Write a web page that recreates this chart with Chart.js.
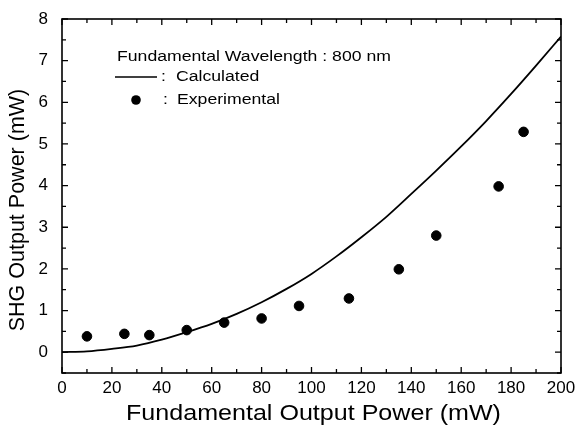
<!DOCTYPE html>
<html>
<head>
<meta charset="utf-8">
<script src="https://cdn.jsdelivr.net/npm/chart.js@4/dist/chart.umd.min.js"></script>
<style>
  html, body { margin: 0; padding: 0; background: #fff; }
  #wrap { width: 575px; height: 433px; }
</style>
</head>
<body>
<div id="wrap"><canvas id="grafico"></canvas></div>
<script>
// === DATOS ===
const calcX = [0, 10, 20, 30, 40, 50, 60, 70, 80, 90, 100, 110, 120, 130, 140, 150, 160, 170, 180, 190, 200];
const calcY = [0, 0.02, 0.08, 0.16, 0.30, 0.48, 0.68, 0.92, 1.20, 1.52, 1.88, 2.30, 2.76, 3.25, 3.80, 4.36, 4.94, 5.55, 6.20, 6.88, 7.58];
const expX = [10, 25, 35, 50, 65, 80, 95, 115, 135, 150, 175, 185];
const expY = [0.38, 0.44, 0.41, 0.53, 0.71, 0.81, 1.11, 1.29, 1.99, 2.80, 3.98, 5.29];
const xTicks = [0, 20, 40, 60, 80, 100, 120, 140, 160, 180, 200];
const yTicks = [0, 1, 2, 3, 4, 5, 6, 7, 8];

const fuente = '"Liberation Sans", Arial, sans-serif';

// texto estirado en horizontal (el escaneo original esta ensanchado)
function texto(ctx, str, x, y, sx) {
    ctx.save();
    ctx.translate(x, y);
    ctx.scale(sx, 1);
    ctx.fillText(str, 0, 0);
    ctx.restore();
}

// ticks hacia adentro, marco y textos
const marco = {
    id: 'marco',
    afterDraw(chart) {
        const ctx = chart.ctx;
        const a = chart.chartArea;
        const x = chart.scales.x, y = chart.scales.y;
        ctx.save();
        ctx.strokeStyle = '#000';
        ctx.lineWidth = 1.6;
        ctx.strokeRect(a.left, a.top, a.right - a.left, a.bottom - a.top);
        ctx.lineWidth = 1.3;
        ctx.beginPath();
        for (let v = 0; v <= 200; v += 10) {
            const px = x.getPixelForValue(v);
            const len = xTicks.includes(v) ? 6 : 4;
            ctx.moveTo(px, a.bottom); ctx.lineTo(px, a.bottom - len);
            ctx.moveTo(px, a.top); ctx.lineTo(px, a.top + len);
        }
        for (let v = -0.5; v <= 8; v += 0.5) {
            const py = y.getPixelForValue(v);
            const len = yTicks.includes(v) ? 6 : 4;
            ctx.moveTo(a.left, py); ctx.lineTo(a.left + len, py);
            ctx.moveTo(a.right, py); ctx.lineTo(a.right - len, py);
        }
        ctx.stroke();

        // titulos de ejes
        ctx.fillStyle = '#000';
        ctx.font = '22px ' + fuente;
        ctx.textAlign = 'center';
        ctx.textBaseline = 'middle';
        texto(ctx, 'Fundamental Output Power (mW)', (a.left + a.right) / 2 + 2, 414, 1.14);
        ctx.save();
        ctx.translate(18, 210);
        ctx.rotate(-Math.PI / 2);
        ctx.font = '21.5px ' + fuente;
        ctx.fillText('SHG Output Power (mW)', 0, 0);
        ctx.restore();

        // leyenda
        ctx.font = '14px ' + fuente;
        ctx.textAlign = 'left';
        texto(ctx, 'Fundamental Wavelength : 800 nm', 117, 57, 1.26);
        ctx.lineWidth = 1.5;
        ctx.beginPath();
        ctx.moveTo(115, 77); ctx.lineTo(157, 77);
        ctx.stroke();
        texto(ctx, ':', 161, 77, 1.26);
        texto(ctx, 'Calculated', 176, 77, 1.26);
        ctx.beginPath();
        ctx.arc(136, 100, 4.8, 0, Math.PI * 2);
        ctx.fill();
        texto(ctx, ':', 163, 100, 1.26);
        texto(ctx, 'Experimental', 177, 100, 1.26);
        ctx.restore();
    }
};

new Chart(document.getElementById('grafico'), {
    type: 'scatter',
    data: {
        datasets: [{
            label: 'Calculated',
            data: calcX.map((v, i) => ({ x: v, y: calcY[i] })),
            showLine: true,
            borderColor: '#000',
            borderWidth: 1.8,
            pointRadius: 0,
            cubicInterpolationMode: 'monotone'
        }, {
            label: 'Experimental',
            data: expX.map((v, i) => ({ x: v, y: expY[i] })),
            backgroundColor: '#000',
            borderColor: '#000',
            pointRadius: 4.8,
            pointHoverRadius: 4.8
        }]
    },
    options: {
        responsive: true,
        maintainAspectRatio: false,
        animation: false,
        layout: { padding: { top: 19, right: 14, left: 0, bottom: 0 } },
        plugins: { legend: { display: false }, tooltip: { enabled: false } },
        scales: {
            x: {
                type: 'linear',
                min: 0, max: 200,
                grid: { display: false, drawTicks: false },
                border: { display: false },
                afterFit: s => { s.height = 60; s.paddingLeft = 0; s.paddingRight = 0; },
                ticks: {
                    stepSize: 10,
                    autoSkip: false,
                    maxRotation: 0,
                    padding: 5,
                    color: '#000',
                    font: { family: fuente, size: 17 },
                    callback: v => xTicks.includes(v) ? String(v) : ''
                }
            },
            y: {
                min: -0.5, max: 8,
                grid: { display: false, drawTicks: false },
                border: { display: false },
                afterFit: s => { s.width = 62; s.paddingTop = 0; s.paddingBottom = 0; },
                ticks: {
                    stepSize: 0.5,
                    autoSkip: false,
                    padding: 14,
                    color: '#000',
                    font: { family: fuente, size: 17 },
                    callback: v => yTicks.includes(v) ? String(v) : ''
                }
            }
        }
    },
    plugins: [marco]
});
</script>
</body>
</html>
